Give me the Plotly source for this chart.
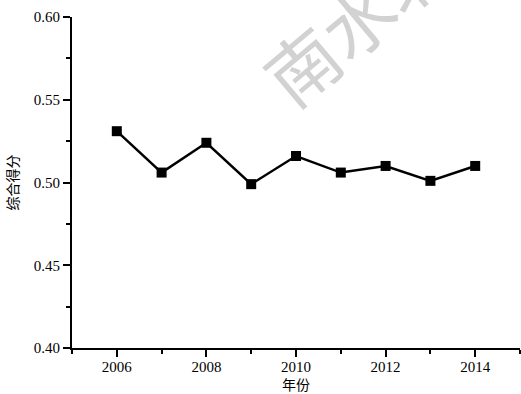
import plotly.graph_objects as go

# Composite score by year
years = [2006, 2007, 2008, 2009, 2010, 2011, 2012, 2013, 2014]
scores = [0.531, 0.506, 0.524, 0.499, 0.516, 0.506, 0.510, 0.501, 0.510]

x_title = "年份"
y_title = "综合得分"
watermark = "南水北调"

serif = "Liberation Serif, Times New Roman, serif"
cjk = "Noto Sans CJK SC, sans-serif"

fig = go.Figure(
    go.Scatter(
        x=years,
        y=scores,
        mode="lines+markers",
        line=dict(color="black", width=2.5),
        marker=dict(symbol="square", size=10, color="black"),
        showlegend=False,
    )
)

axis_common = dict(
    showline=True,
    linecolor="black",
    linewidth=2,
    ticks="outside",
    tickcolor="black",
    tickwidth=2,
    ticklen=7,
    showgrid=False,
    zeroline=False,
    tickfont=dict(family=serif, size=15, color="black"),
)

fig.update_xaxes(
    range=[2005, 2015],
    tick0=2006,
    dtick=2,
    ticklabelstandoff=-3,
    minor=dict(dtick=1, tick0=2005, ticks="outside", ticklen=4, tickwidth=2, tickcolor="black"),
    title=dict(text=x_title, font=dict(family=cjk, size=14, color="black"), standoff=8),
    **axis_common,
)
fig.update_yaxes(
    range=[0.40, 0.60],
    tick0=0.40,
    dtick=0.05,
    tickformat=".2f",
    minor=dict(dtick=0.025, ticks="outside", ticklen=4, tickwidth=2, tickcolor="black"),
    title=dict(text=y_title, font=dict(family=cjk, size=14, color="black"), standoff=12),
    **axis_common,
)

fig.add_annotation(
    text=watermark,
    xref="paper",
    yref="paper",
    x=(383 - 72) / 448,
    y=(348 + 6) / 331,
    showarrow=False,
    textangle=-40,
    font=dict(family=cjk, size=72, color="#d2d2d2"),
    xanchor="center",
    yanchor="middle",
)

fig.update_layout(
    width=521,
    height=394,
    margin=dict(l=72, r=1, t=17, b=46),
    paper_bgcolor="white",
    plot_bgcolor="white",
)

fig.write_html("out.html")
